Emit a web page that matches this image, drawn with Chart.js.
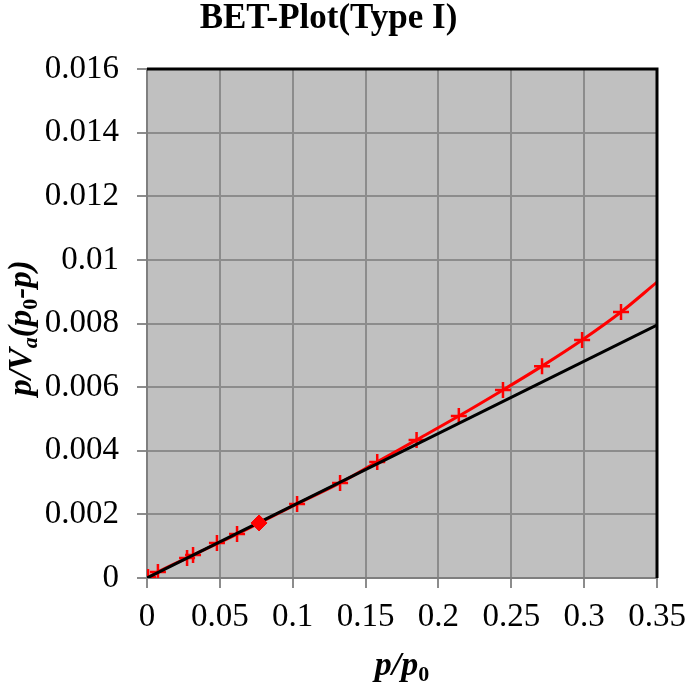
<!DOCTYPE html>
<html>
<head>
<meta charset="utf-8">
<script src="https://cdn.jsdelivr.net/npm/chart.js@4"></script>
<style>
html,body{margin:0;padding:0;background:#fff;}
#wrap{width:685px;height:688px;}
</style>
</head>
<body>
<div id="wrap"><canvas id="c" width="685" height="688"></canvas></div>
<script>
// ---- data ----
const pointX = [0.0007, 0.0075, 0.0275, 0.0316, 0.048, 0.0618, 0.103, 0.1325, 0.158, 0.185, 0.214, 0.2443, 0.2711, 0.2986, 0.3253];
const pointY = [0.00003, 0.00019, 0.00063, 0.00072, 0.00110, 0.00138, 0.00233, 0.00299, 0.00365, 0.00434, 0.00509, 0.00591, 0.00666, 0.00748, 0.00836];
const curveX = [0, 0.0075, 0.0316, 0.0618, 0.103, 0.1325, 0.158, 0.185, 0.214, 0.2443, 0.2711, 0.2986, 0.3253, 0.35];
const curveY = [0, 0.00019, 0.00072, 0.00138, 0.00233, 0.00299, 0.00365, 0.00434, 0.00509, 0.00591, 0.00666, 0.00748, 0.00836, 0.0093];
const lineX = [0, 0.35];
const lineY = [0, 0.00795];
const diamondX = [0.0769];
const diamondY = [0.00173];
const xTickLabels = ['0', '0.05', '0.1', '0.15', '0.2', '0.25', '0.3', '0.35'];
const yTickLabels = ['0', '0.002', '0.004', '0.006', '0.008', '0.01', '0.012', '0.014', '0.016'];
const titleText = 'BET-Plot(Type I)';

const zip = (xs, ys) => xs.map((x, i) => ({x: x, y: ys[i]}));
const SERIF = '"Liberation Serif", "Times New Roman", serif';

function drawRich(ctx, parts, size) {
  let w = 0;
  const items = parts.map(p => {
    const fs = p.sub ? Math.round(size * 0.66) : size;
    const font = (p.italic ? 'italic ' : '') + 'bold ' + fs + 'px ' + SERIF;
    ctx.font = font;
    const mw = ctx.measureText(p.t).width;
    const it = {t: p.t, font: font, w: mw, dy: p.sub ? size * 0.28 : 0};
    w += mw;
    return it;
  });
  let x = -w / 2;
  ctx.textBaseline = 'middle';
  ctx.textAlign = 'left';
  items.forEach(it => {
    ctx.font = it.font;
    ctx.fillText(it.t, x, it.dy);
    x += it.w;
  });
}

const frame = {
  id: 'frame',
  beforeDraw(chart) {
    const {ctx, chartArea: a} = chart;
    ctx.save();
    ctx.fillStyle = '#c0c0c0';
    ctx.fillRect(a.left, a.top, a.right - a.left, a.bottom - a.top);
    ctx.restore();
  },
  afterDraw(chart) {
    const {ctx, chartArea: a} = chart;
    ctx.save();
    ctx.strokeStyle = '#000';
    ctx.lineWidth = 3;
    ctx.beginPath();
    ctx.moveTo(a.left, a.top);
    ctx.lineTo(a.right, a.top);
    ctx.lineTo(a.right, a.bottom);
    ctx.stroke();
    ctx.fillStyle = '#000';
    ctx.save();
    ctx.translate(22, 328);
    ctx.rotate(-Math.PI / 2);
    drawRich(ctx, [
      {t: 'p/V', italic: true},
      {t: 'a', italic: true, sub: true},
      {t: '(p', italic: true},
      {t: '0', sub: true},
      {t: '-p)', italic: true}
    ], 33);
    ctx.restore();
    ctx.save();
    ctx.translate(402, 666);
    drawRich(ctx, [
      {t: 'p/p', italic: true},
      {t: '0', sub: true}
    ], 34);
    ctx.restore();
    ctx.restore();
  }
};

new Chart(document.getElementById('c'), {
  type: 'scatter',
  data: {
    datasets: [
      {
        label: 'linear fit',
        type: 'line',
        data: zip(lineX, lineY),
        borderColor: '#000',
        borderWidth: 3,
        pointRadius: 0,
        fill: false,
        order: 1
      },
      {
        label: 'curve',
        type: 'line',
        data: zip(curveX, curveY),
        borderColor: '#ff0000',
        borderWidth: 3,
        pointRadius: 0,
        cubicInterpolationMode: 'monotone',
        fill: false,
        order: 2
      },
      {
        label: 'data',
        data: zip(pointX, pointY),
        pointStyle: 'cross',
        pointRadius: 8,
        borderColor: '#ff0000',
        backgroundColor: '#ff0000',
        borderWidth: 2.5,
        order: 3
      },
      {
        label: 'point',
        data: zip(diamondX, diamondY),
        pointStyle: 'rectRot',
        pointRadius: 8,
        borderColor: '#ff0000',
        backgroundColor: '#ff0000',
        borderWidth: 1,
        order: 0
      }
    ]
  },
  options: {
    responsive: false,
    animation: false,
    layout: {padding: {top: 0, right: 28, left: 0, bottom: 0}},
    plugins: {
      legend: {display: false},
      tooltip: {enabled: false},
      title: {
        display: true,
        text: titleText,
        color: '#000',
        font: {family: SERIF, size: 35, weight: 'bold', lineHeight: 1.1},
        padding: {top: 0, bottom: 30.5}
      }
    },
    scales: {
      x: {
        type: 'linear',
        min: 0,
        max: 0.35,
        afterFit(s) { s.height = 110; s.paddingLeft = 0; s.paddingRight = 0; },
        afterBuildTicks(s) { s.ticks = xTickLabels.map(v => ({value: parseFloat(v)})); },
        ticks: {
          color: '#000',
          font: {family: SERIF, size: 33},
          padding: 10,
          maxRotation: 0,
          autoSkip: false,
          callback: (v, i) => xTickLabels[i]
        },
        grid: {color: '#8c8c8c', lineWidth: 2, tickLength: 10, drawTicks: true},
        border: {display: true, color: '#7f7f7f', width: 2}
      },
      y: {
        type: 'linear',
        min: 0,
        max: 0.016,
        afterFit(s) { s.width = 147; s.paddingTop = 0; s.paddingBottom = 0; },
        afterBuildTicks(s) { s.ticks = yTickLabels.map(v => ({value: parseFloat(v)})); },
        ticks: {
          color: '#000',
          font: {family: SERIF, size: 33},
          padding: 18,
          autoSkip: false,
          callback: (v, i) => yTickLabels[i]
        },
        grid: {color: '#8c8c8c', lineWidth: 2, tickLength: 10},
        border: {display: true, color: '#7f7f7f', width: 2}
      }
    }
  },
  plugins: [frame]
});
</script>
</body>
</html>
